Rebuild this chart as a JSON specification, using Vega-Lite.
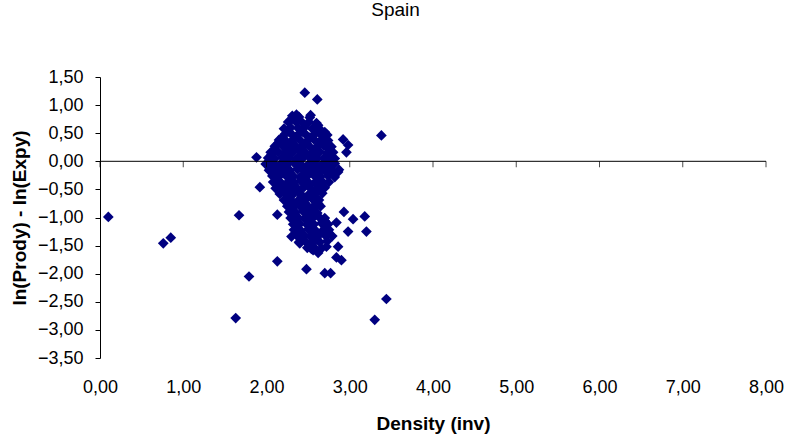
{
  "$schema": "https://vega.github.io/schema/vega-lite/v6.json",
  "width": 666,
  "height": 281,
  "autosize": "none",
  "padding": {"left": 100, "top": 77, "right": 25, "bottom": 79},
  "background": "white",
  "title": {"text": "Spain", "font": "Liberation Sans", "fontSize": 19, "fontWeight": "normal", "color": "black", "anchor": "middle", "dx": -37.5, "offset": 48},
  "config": {"view": {"stroke": null}, "axis": {"grid": false, "labelOverlap": false, "labelFlush": false}},
  "datasets": {
    "axisline": [{"density": 0, "density_end": 8, "diff": 0}],
    "axisticks": [{"density": 0, "diff": 0}, {"density": 1, "diff": 0}, {"density": 2, "diff": 0}, {"density": 3, "diff": 0}, {"density": 4, "diff": 0}, {"density": 5, "diff": 0}, {"density": 6, "diff": 0}, {"density": 7, "diff": 0}, {"density": 8, "diff": 0}],
    "points": [
      {"density": 0.10, "diff": -0.99}, {"density": 0.76, "diff": -1.46}, {"density": 0.85, "diff": -1.36},
      {"density": 1.67, "diff": -0.96}, {"density": 1.63, "diff": -2.79}, {"density": 1.79, "diff": -2.05},
      {"density": 2.13, "diff": -0.95}, {"density": 2.13, "diff": -1.78}, {"density": 1.88, "diff": 0.07},
      {"density": 1.92, "diff": -0.46}, {"density": 2.46, "diff": 1.22}, {"density": 2.61, "diff": 1.10},
      {"density": 3.38, "diff": 0.46}, {"density": 2.92, "diff": 0.39}, {"density": 2.98, "diff": 0.29},
      {"density": 2.96, "diff": 0.16}, {"density": 2.86, "diff": -0.19}, {"density": 2.93, "diff": -0.90},
      {"density": 3.04, "diff": -1.03}, {"density": 3.18, "diff": -0.98}, {"density": 3.20, "diff": -1.25},
      {"density": 2.98, "diff": -1.25}, {"density": 2.84, "diff": -1.09}, {"density": 2.86, "diff": -1.52},
      {"density": 2.84, "diff": -1.71}, {"density": 2.90, "diff": -1.76}, {"density": 2.70, "diff": -1.99},
      {"density": 2.77, "diff": -1.99}, {"density": 2.48, "diff": -1.92}, {"density": 3.44, "diff": -2.45},
      {"density": 3.30, "diff": -2.82}, {"density": 2.56, "diff": -1.58}, {"density": 2.62, "diff": -1.63},
      {"density": 2.30, "diff": -1.34}, {"density": 2.40, "diff": -1.46}, {"density": 2.72, "diff": -1.52},
      {"density": 2.54, "diff": -1.56}, {"density": 2.82, "diff": 0.05}, {"density": 2.36, "diff": 0.83},
      {"density": 2.30, "diff": 0.74}, {"density": 2.53, "diff": 0.82}, {"density": 2.62, "diff": 0.64},
      {"density": 2.70, "diff": 0.52},
      {"density": 2.31, "diff": 0.81}, {"density": 2.39, "diff": 0.79}, {"density": 2.52, "diff": 0.78},
      {"density": 2.26, "diff": 0.70}, {"density": 2.35, "diff": 0.71}, {"density": 2.43, "diff": 0.69}, {"density": 2.51, "diff": 0.70}, {"density": 2.60, "diff": 0.68},
      {"density": 2.21, "diff": 0.58}, {"density": 2.29, "diff": 0.60}, {"density": 2.38, "diff": 0.59}, {"density": 2.46, "diff": 0.61}, {"density": 2.55, "diff": 0.58}, {"density": 2.63, "diff": 0.59},
      {"density": 2.22, "diff": 0.48}, {"density": 2.31, "diff": 0.47}, {"density": 2.39, "diff": 0.49}, {"density": 2.47, "diff": 0.48}, {"density": 2.56, "diff": 0.46}, {"density": 2.64, "diff": 0.49}, {"density": 2.73, "diff": 0.47},
      {"density": 2.15, "diff": 0.38}, {"density": 2.23, "diff": 0.37}, {"density": 2.32, "diff": 0.39}, {"density": 2.40, "diff": 0.38}, {"density": 2.49, "diff": 0.36}, {"density": 2.57, "diff": 0.39}, {"density": 2.66, "diff": 0.38}, {"density": 2.74, "diff": 0.37},
      {"density": 2.10, "diff": 0.27}, {"density": 2.19, "diff": 0.28}, {"density": 2.27, "diff": 0.26}, {"density": 2.35, "diff": 0.27}, {"density": 2.44, "diff": 0.29}, {"density": 2.52, "diff": 0.26}, {"density": 2.61, "diff": 0.27}, {"density": 2.69, "diff": 0.28}, {"density": 2.78, "diff": 0.26},
      {"density": 2.05, "diff": 0.16}, {"density": 2.14, "diff": 0.17}, {"density": 2.22, "diff": 0.15}, {"density": 2.31, "diff": 0.16}, {"density": 2.39, "diff": 0.18}, {"density": 2.47, "diff": 0.15}, {"density": 2.56, "diff": 0.16}, {"density": 2.64, "diff": 0.17}, {"density": 2.73, "diff": 0.15}, {"density": 2.80, "diff": 0.16},
      {"density": 2.02, "diff": 0.06}, {"density": 2.10, "diff": 0.05}, {"density": 2.19, "diff": 0.07}, {"density": 2.27, "diff": 0.06}, {"density": 2.35, "diff": 0.04}, {"density": 2.44, "diff": 0.06}, {"density": 2.52, "diff": 0.07}, {"density": 2.61, "diff": 0.05}, {"density": 2.69, "diff": 0.06}, {"density": 2.78, "diff": 0.04},
      {"density": 1.99, "diff": -0.05}, {"density": 2.08, "diff": -0.04}, {"density": 2.16, "diff": -0.06}, {"density": 2.25, "diff": -0.05}, {"density": 2.33, "diff": -0.03}, {"density": 2.41, "diff": -0.05}, {"density": 2.50, "diff": -0.06}, {"density": 2.58, "diff": -0.04}, {"density": 2.67, "diff": -0.05}, {"density": 2.75, "diff": -0.06}, {"density": 2.82, "diff": -0.04},
      {"density": 2.03, "diff": -0.16}, {"density": 2.11, "diff": -0.15}, {"density": 2.20, "diff": -0.17}, {"density": 2.28, "diff": -0.16}, {"density": 2.37, "diff": -0.14}, {"density": 2.45, "diff": -0.16}, {"density": 2.53, "diff": -0.17}, {"density": 2.62, "diff": -0.15}, {"density": 2.70, "diff": -0.16}, {"density": 2.79, "diff": -0.17}, {"density": 2.87, "diff": -0.15},
      {"density": 2.07, "diff": -0.26}, {"density": 2.15, "diff": -0.27}, {"density": 2.23, "diff": -0.25}, {"density": 2.32, "diff": -0.26}, {"density": 2.40, "diff": -0.28}, {"density": 2.49, "diff": -0.26}, {"density": 2.57, "diff": -0.25}, {"density": 2.65, "diff": -0.27}, {"density": 2.74, "diff": -0.26}, {"density": 2.82, "diff": -0.28},
      {"density": 2.08, "diff": -0.37}, {"density": 2.16, "diff": -0.36}, {"density": 2.25, "diff": -0.38}, {"density": 2.33, "diff": -0.37}, {"density": 2.41, "diff": -0.35}, {"density": 2.50, "diff": -0.37}, {"density": 2.58, "diff": -0.38}, {"density": 2.67, "diff": -0.36}, {"density": 2.75, "diff": -0.37},
      {"density": 2.11, "diff": -0.48}, {"density": 2.20, "diff": -0.47}, {"density": 2.28, "diff": -0.49}, {"density": 2.37, "diff": -0.48}, {"density": 2.45, "diff": -0.46}, {"density": 2.53, "diff": -0.48}, {"density": 2.62, "diff": -0.49}, {"density": 2.70, "diff": -0.47},
      {"density": 2.16, "diff": -0.58}, {"density": 2.25, "diff": -0.59}, {"density": 2.33, "diff": -0.57}, {"density": 2.41, "diff": -0.58}, {"density": 2.50, "diff": -0.60}, {"density": 2.58, "diff": -0.58}, {"density": 2.67, "diff": -0.57},
      {"density": 2.21, "diff": -0.69}, {"density": 2.29, "diff": -0.68}, {"density": 2.38, "diff": -0.70}, {"density": 2.46, "diff": -0.69}, {"density": 2.55, "diff": -0.67}, {"density": 2.63, "diff": -0.69},
      {"density": 2.25, "diff": -0.80}, {"density": 2.33, "diff": -0.79}, {"density": 2.41, "diff": -0.81}, {"density": 2.50, "diff": -0.80}, {"density": 2.58, "diff": -0.78}, {"density": 2.65, "diff": -0.80},
      {"density": 2.27, "diff": -0.90}, {"density": 2.35, "diff": -0.91}, {"density": 2.44, "diff": -0.89}, {"density": 2.52, "diff": -0.90}, {"density": 2.61, "diff": -0.92},
      {"density": 2.29, "diff": -1.01}, {"density": 2.38, "diff": -1.00}, {"density": 2.46, "diff": -1.02}, {"density": 2.55, "diff": -1.01}, {"density": 2.63, "diff": -0.99}, {"density": 2.70, "diff": -1.01},
      {"density": 2.32, "diff": -1.12}, {"density": 2.40, "diff": -1.11}, {"density": 2.49, "diff": -1.13}, {"density": 2.57, "diff": -1.12}, {"density": 2.66, "diff": -1.10}, {"density": 2.74, "diff": -1.12},
      {"density": 2.33, "diff": -1.22}, {"density": 2.41, "diff": -1.23}, {"density": 2.50, "diff": -1.21}, {"density": 2.58, "diff": -1.22}, {"density": 2.67, "diff": -1.24}, {"density": 2.75, "diff": -1.22},
      {"density": 2.37, "diff": -1.33}, {"density": 2.45, "diff": -1.32}, {"density": 2.53, "diff": -1.34}, {"density": 2.62, "diff": -1.33}, {"density": 2.70, "diff": -1.31}, {"density": 2.79, "diff": -1.33},
      {"density": 2.39, "diff": -1.44}, {"density": 2.47, "diff": -1.43}, {"density": 2.56, "diff": -1.45}, {"density": 2.64, "diff": -1.44}, {"density": 2.73, "diff": -1.42},
      {"density": 2.49, "diff": -1.54}, {"density": 2.57, "diff": -1.53}, {"density": 2.66, "diff": -1.55},
      {"density": 2.27, "diff": 0.53}, {"density": 2.43, "diff": 0.53}, {"density": 2.60, "diff": 0.52},
      {"density": 2.19, "diff": 0.43}, {"density": 2.35, "diff": 0.43}, {"density": 2.52, "diff": 0.42}, {"density": 2.69, "diff": 0.43},
      {"density": 2.14, "diff": 0.32}, {"density": 2.31, "diff": 0.33}, {"density": 2.48, "diff": 0.32}, {"density": 2.65, "diff": 0.33},
      {"density": 2.09, "diff": 0.21}, {"density": 2.26, "diff": 0.22}, {"density": 2.43, "diff": 0.21}, {"density": 2.60, "diff": 0.22}, {"density": 2.76, "diff": 0.21},
      {"density": 2.06, "diff": 0.11}, {"density": 2.23, "diff": 0.11}, {"density": 2.40, "diff": 0.10}, {"density": 2.57, "diff": 0.11}, {"density": 2.74, "diff": 0.10},
      {"density": 2.04, "diff": 0.00}, {"density": 2.21, "diff": 0.01}, {"density": 2.38, "diff": 0.00}, {"density": 2.55, "diff": 0.01}, {"density": 2.72, "diff": 0.00},
      {"density": 2.07, "diff": -0.10}, {"density": 2.24, "diff": -0.11}, {"density": 2.41, "diff": -0.10}, {"density": 2.58, "diff": -0.11}, {"density": 2.75, "diff": -0.10},
      {"density": 2.11, "diff": -0.21}, {"density": 2.28, "diff": -0.21}, {"density": 2.45, "diff": -0.22}, {"density": 2.62, "diff": -0.21}, {"density": 2.79, "diff": -0.22},
      {"density": 2.12, "diff": -0.32}, {"density": 2.29, "diff": -0.31}, {"density": 2.46, "diff": -0.32}, {"density": 2.63, "diff": -0.31},
      {"density": 2.16, "diff": -0.43}, {"density": 2.33, "diff": -0.42}, {"density": 2.50, "diff": -0.43}, {"density": 2.66, "diff": -0.42},
      {"density": 2.21, "diff": -0.53}, {"density": 2.38, "diff": -0.53}, {"density": 2.55, "diff": -0.54},
      {"density": 2.25, "diff": -0.64}, {"density": 2.42, "diff": -0.63}, {"density": 2.59, "diff": -0.64},
      {"density": 2.29, "diff": -0.75}, {"density": 2.46, "diff": -0.74}, {"density": 2.62, "diff": -0.75},
      {"density": 2.31, "diff": -0.85}, {"density": 2.48, "diff": -0.85}, {"density": 2.57, "diff": -0.85},
      {"density": 2.33, "diff": -0.96}, {"density": 2.50, "diff": -0.95}, {"density": 2.59, "diff": -0.96},
      {"density": 2.36, "diff": -1.06}, {"density": 2.53, "diff": -1.07}, {"density": 2.70, "diff": -1.06},
      {"density": 2.37, "diff": -1.17}, {"density": 2.54, "diff": -1.17}, {"density": 2.71, "diff": -1.17},
      {"density": 2.41, "diff": -1.28}, {"density": 2.58, "diff": -1.27}, {"density": 2.75, "diff": -1.28},
      {"density": 2.43, "diff": -1.38}, {"density": 2.60, "diff": -1.38}, {"density": 2.52, "diff": -1.49}
    ]
  },
  "encoding": {
    "x": {
      "field": "density", "type": "quantitative",
      "scale": {"domain": [0, 8], "nice": false},
      "axis": {
        "values": [0, 1, 2, 3, 4, 5, 6, 7, 8],
        "labelExpr": "replace(format(datum.value, '.2f'), '.', ',')",
        "domain": false, "ticks": false, "labelOverlap": false, "labelFlush": false,
        "labelFont": "Liberation Sans", "labelFontSize": 18, "labelColor": "black", "labelPadding": 20,
        "title": "Density (inv)", "titleFont": "Liberation Sans", "titleFontSize": 19, "titleFontWeight": "bold", "titleColor": "black", "titlePadding": 18
      }
    },
    "y": {
      "field": "diff", "type": "quantitative",
      "scale": {"domain": [-3.5, 1.5], "nice": false, "zero": false},
      "axis": {
        "values": [-3.5, -3, -2.5, -2, -1.5, -1, -0.5, 0, 0.5, 1, 1.5],
        "labelExpr": "replace(format(datum.value, '.2f'), '.', ',')",
        "labelOverlap": false, "labelFlush": false, "labelBound": false,
        "domainColor": "black", "tickColor": "black", "tickSize": 5,
        "labelFont": "Liberation Sans", "labelFontSize": 18, "labelColor": "black", "labelPadding": 12,
        "title": "ln(Prody) - ln(Expy)", "titleFont": "Liberation Sans", "titleFontSize": 19, "titleFontWeight": "bold", "titleColor": "black", "titlePadding": 8
      }
    }
  },
  "layer": [
    {
      "data": {"name": "points"},
      "mark": {"type": "point", "shape": "diamond", "filled": true, "size": 115, "color": "#000080", "opacity": 1}
    },
    {
      "data": {"name": "axisline"},
      "mark": {"type": "rule", "color": "black", "strokeWidth": 1},
      "encoding": {"x2": {"field": "density_end"}}
    },
    {
      "data": {"name": "axisticks"},
      "mark": {"type": "tick", "orient": "vertical", "color": "black", "size": 6, "thickness": 1, "yOffset": 3}
    }
  ]
}
